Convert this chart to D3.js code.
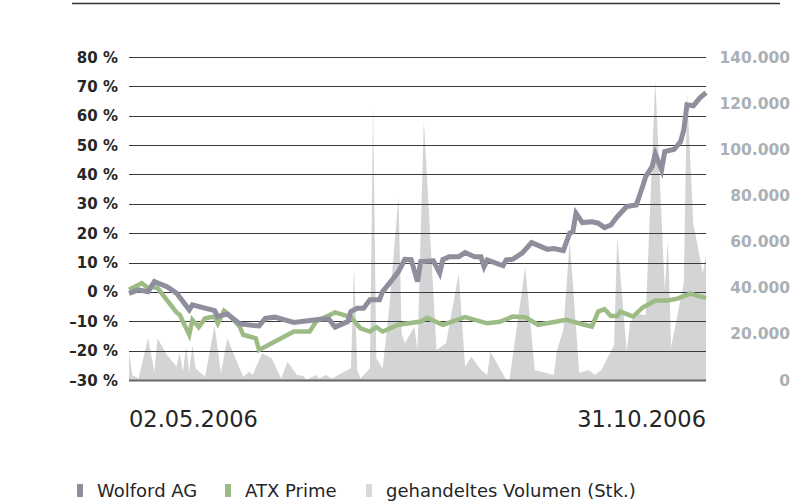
<!DOCTYPE html>
<html>
<head>
<meta charset="utf-8">
<script src="https://cdn.jsdelivr.net/npm/d3@7"></script>
<style>
  body { margin: 0; background: #fff; }
  svg { display: block; }
</style>
</head>
<body>
<script>
// days counted from 02.05.2006
var startDate = new Date(2006, 4, 2);
var totalDays = 182;

var wolfordDay = [0, 3, 6, 8, 12, 15, 19, 20, 27, 28, 31, 35, 41, 43, 46, 52, 61, 63, 65, 69, 70, 72, 74, 76, 79, 80, 83, 85, 87, 89, 91, 92, 96, 98, 99, 101, 104, 106, 109, 111, 112, 113, 118, 119, 121, 124, 127, 132, 134, 137, 139, 140, 141, 143, 146, 148, 150, 152, 154, 157, 160, 162, 163, 165, 166, 168, 169, 172, 174, 175, 176, 178, 180, 182];
var wolfordPct = [-0.5, 0.7, 0.1, 3.5, 1.8, -0.4, -6.1, -4.4, -6.4, -8.4, -7.5, -10.9, -11.6, -9.0, -8.6, -10.4, -9.2, -9.2, -12.0, -10.1, -6.7, -5.6, -5.6, -2.7, -2.7, 0.1, 4.1, 6.9, 11.1, 11.0, 3.5, 10.3, 10.6, 6.4, 11.0, 12.0, 12.0, 13.4, 12.0, 12.0, 8.6, 10.9, 8.9, 10.9, 11.1, 13.2, 16.8, 14.5, 14.8, 14.1, 20.0, 20.5, 26.8, 23.6, 23.9, 23.4, 21.9, 22.8, 25.6, 29.1, 29.6, 35.9, 39.3, 42.7, 47.0, 41.6, 47.8, 48.6, 51.2, 55.2, 63.7, 63.4, 66.0, 67.9];

var atxDay = [0, 4, 6, 7, 9, 15, 16, 19, 20, 22, 24, 27, 28, 30, 32, 35, 36, 40, 41, 52, 57, 59, 65, 70, 73, 76, 78, 80, 85, 92, 94, 99, 106, 113, 117, 121, 125, 129, 138, 143, 146, 148, 150, 152, 154, 155, 159, 162, 166, 170, 173, 177, 182];
var atxPct = [0.7, 3.0, 1.3, 1.8, 1.3, -7.0, -7.8, -14.6, -9.5, -12.0, -9.0, -8.4, -10.7, -6.4, -8.2, -12.0, -14.6, -15.8, -19.8, -13.5, -13.5, -10.1, -7.0, -8.6, -12.4, -13.5, -12.0, -13.5, -11.2, -10.1, -8.8, -11.2, -8.6, -10.7, -10.2, -8.4, -8.6, -11.2, -9.5, -11.0, -11.8, -6.7, -5.9, -8.2, -8.2, -6.7, -8.4, -5.3, -2.9, -2.9, -2.3, -0.6, -2.1];

var volumeDay = [0, 1, 3, 6, 8, 9, 12, 15, 16, 17, 18, 19, 20, 21, 24, 27, 29, 31, 36, 38, 39, 42, 45, 48, 50, 53, 55, 56, 59, 60, 62, 64, 67, 70, 71, 72, 73, 76, 77, 78, 80, 82, 85, 86, 87, 90, 91, 93, 97, 100, 104, 106, 108, 111, 113, 114, 119, 120, 125, 127, 128, 134, 135, 137, 139, 140, 142, 145, 147, 149, 153, 154, 157, 158, 160, 163, 166, 169, 170, 171, 175, 176, 178, 181, 182];
var volumeStk = [12300, 2200, 700, 18100, 3600, 18100, 10800, 5800, 11600, 3600, 14400, 3500, 15200, 5000, 1400, 23800, 2900, 18100, 1400, 3600, 2200, 11600, 9400, 700, 7900, 2200, 1700, 0, 2200, 700, 2200, 700, 2900, 5100, 49100, 4300, 700, 5100, 120000, 9400, 5000, 30000, 79500, 20200, 15900, 23100, 13000, 112700, 13000, 15900, 46200, 5800, 10100, 4300, 2200, 12300, 0, 0, 49100, 18800, 4300, 2200, 13000, 21700, 60000, 42000, 3000, 4300, 2200, 4300, 15200, 62000, 12300, 24700, 28600, 28200, 130000, 39000, 60700, 14400, 41900, 125000, 67900, 46200, 54000];

var leftTicks = [80, 70, 60, 50, 40, 30, 20, 10, 0, -10, -20, -30];
var rightTicks = [140000, 120000, 100000, 80000, 60000, 40000, 20000, 0];

var legendItems = ['Wolford AG', 'ATX Prime', 'gehandeltes Volumen (Stk.)'];
var legendColors = ['#8f8e9d', '#9dbb84', '#d6d9dd'];

var width = 794, height = 502;
var plotLeft = 129, plotRight = 706, plotTop = 57, plotBottom = 380;

var svg = d3.select('body').append('svg')
  .attr('width', width)
  .attr('height', height);

var x = d3.scaleTime()
  .domain([startDate, d3.timeDay.offset(startDate, totalDays)])
  .range([plotLeft, plotRight]);
var y = d3.scaleLinear().domain([-30, 80]).range([plotBottom, plotTop]);
var yVol = d3.scaleLinear().domain([0, 140000]).range([plotBottom, plotTop]);

function dayDate(d) { return d3.timeDay.offset(startDate, d); }

var de = d3.formatLocale({decimal: ',', thousands: '.', grouping: [3], currency: ['', ' €']});
var volFmt = de.format(',d');
var dateFmt = d3.timeFormat('%d.%m.%Y');

// top rule
svg.append('line')
  .attr('x1', 72).attr('x2', 780)
  .attr('y1', 3.5).attr('y2', 3.5)
  .attr('stroke', '#333').attr('stroke-width', 1.5);

// volume area
var volData = volumeDay.map(function(d, i) { return {date: dayDate(d), v: volumeStk[i]}; });
var area = d3.area()
  .x(function(d) { return x(d.date); })
  .y0(plotBottom)
  .y1(function(d) { return yVol(d.v); });
svg.append('path')
  .datum(volData)
  .attr('d', area)
  .attr('fill', '#d3d4d6');

// gridlines
svg.append('g').selectAll('line')
  .data(leftTicks)
  .enter().append('line')
  .attr('x1', plotLeft).attr('x2', plotRight)
  .attr('y1', function(d) { return Math.round(y(d)) + 0.5; })
  .attr('y2', function(d) { return Math.round(y(d)) + 0.5; })
  .attr('stroke', function(d) { return d === -30 ? '#666' : '#3a3a3a'; })
  .attr('stroke-width', function(d) { return d === -30 ? 2 : 1.2; });

// left labels
svg.append('g').selectAll('text')
  .data(leftTicks)
  .enter().append('text')
  .attr('x', 118)
  .attr('y', function(d) { return y(d) + 5.5; })
  .attr('text-anchor', 'end')
  .style('font-family', 'DejaVu Sans, sans-serif')
  .style('font-weight', 'bold')
  .style('font-size', '15px')
  .attr('fill', '#262626')
  .text(function(d) { return (d < 0 ? '\u2013' + Math.abs(d) : d) + ' %'; });

// right labels
svg.append('g').selectAll('text')
  .data(rightTicks)
  .enter().append('text')
  .attr('x', 790)
  .attr('y', function(d) { return yVol(d) + 5.5; })
  .attr('text-anchor', 'end')
  .style('font-family', 'DejaVu Sans, sans-serif')
  .style('font-weight', 'bold')
  .style('font-size', '15.5px')
  .attr('fill', '#a9b0b6')
  .text(function(d) { return volFmt(d); });

// lines
var line = d3.line()
  .x(function(d) { return x(d.date); })
  .y(function(d) { return y(d.v); });

var atxData = atxDay.map(function(d, i) { return {date: dayDate(d), v: atxPct[i]}; });
svg.append('path')
  .datum(atxData)
  .attr('d', line)
  .attr('fill', 'none')
  .attr('stroke', legendColors[1])
  .attr('stroke-width', 4.5)
  .attr('stroke-linejoin', 'miter');

var wolfData = wolfordDay.map(function(d, i) { return {date: dayDate(d), v: wolfordPct[i]}; });
svg.append('path')
  .datum(wolfData)
  .attr('d', line)
  .attr('fill', 'none')
  .attr('stroke', legendColors[0])
  .attr('stroke-width', 5)
  .attr('stroke-linejoin', 'miter');

// date labels
var domain = x.domain();
svg.append('text')
  .attr('x', plotLeft).attr('y', 427)
  .style('font-family', 'DejaVu Sans, sans-serif')
  .style('font-size', '22.5px')
  .attr('fill', '#262626')
  .text(dateFmt(domain[0]));
svg.append('text')
  .attr('x', plotRight).attr('y', 427)
  .attr('text-anchor', 'end')
  .style('font-family', 'DejaVu Sans, sans-serif')
  .style('font-size', '22.5px')
  .attr('fill', '#262626')
  .text(dateFmt(domain[1]));

// legend
var legendX = [77, 225, 366];
var legend = svg.append('g').selectAll('g')
  .data(legendItems)
  .enter().append('g')
  .attr('transform', function(d, i) { return 'translate(' + legendX[i] + ',0)'; });
legend.append('rect')
  .attr('x', 0).attr('y', 484)
  .attr('width', 6).attr('height', 13)
  .attr('fill', function(d, i) { return legendColors[i]; });
legend.append('text')
  .attr('x', 20).attr('y', 497)
  .style('font-family', 'DejaVu Sans, sans-serif')
  .style('font-size', '18px')
  .attr('fill', '#262626')
  .text(function(d) { return d; });
</script>
</body>
</html>
